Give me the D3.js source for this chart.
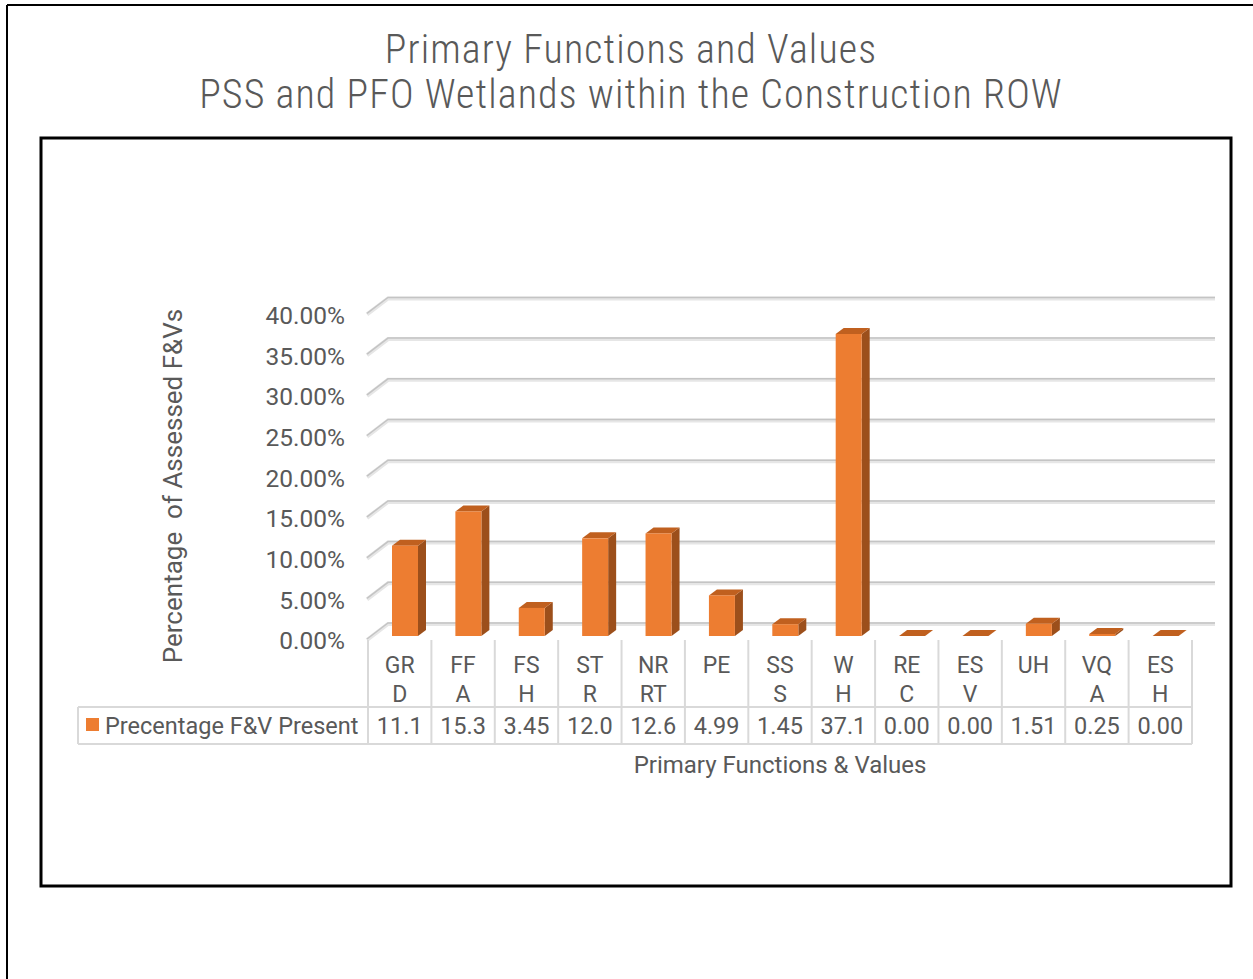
<!DOCTYPE html>
<html>
<head>
  <title>Primary Functions and Values</title>
  <script src="https://d3js.org/d3.v7.min.js"></script>
  <style>
    body { margin: 0; background: #fff; }
    text { font-family: Roboto, "Open Sans", sans-serif; fill: #595959; }
    .ttl { font-family: "Roboto Condensed", "Liberation Sans Narrow", Roboto, sans-serif; font-weight: 300; }
  </style>
</head>
<body>
  <div id="chart"></div>
  <script>
  const categories = ["GRD", "FFA", "FSH", "STR", "NRRT", "PE", "SSS", "WH", "REC", "ESV", "UH", "VQA", "ESH"];
  // label lines as shown in the table header
  const catLines = [["GR","D"],["FF","A"],["FS","H"],["ST","R"],["NR","RT"],["PE"],["SS","S"],["W","H"],["RE","C"],["ES","V"],["UH"],["VQ","A"],["ES","H"]];
  const values = [11.1, 15.3, 3.45, 12.0, 12.6, 4.99, 1.45, 37.1, 0.00, 0.00, 1.51, 0.25, 0.00];
  const valueLabels = ["11.1","15.3","3.45","12.0","12.6","4.99","1.45","37.1","0.00","0.00","1.51","0.25","0.00"];
  const yTicks = [0, 5, 10, 15, 20, 25, 30, 35, 40];
  const seriesName = "Precentage F&V Present";

  const W = 1253, H = 979;
  const svg = d3.select("#chart").append("svg")
    .attr("width", W).attr("height", H);

  // outer page frame (top + left only visible)
  svg.append("line").attr("x1", 7).attr("y1", 5).attr("x2", W).attr("y2", 5)
    .attr("stroke", "#000").attr("stroke-width", 2);
  svg.append("line").attr("x1", 7).attr("y1", 5).attr("x2", 7).attr("y2", H)
    .attr("stroke", "#000").attr("stroke-width", 2);

  // title
  const title = svg.append("text").attr("class", "ttl")
    .attr("text-anchor", "middle").attr("font-size", 40)
    .attr("letter-spacing", 1.1).style("fill", "#595959");
  title.append("tspan").attr("x", 631).attr("y", 63).text("Primary Functions and Values");
  title.append("tspan").attr("x", 631).attr("y", 108).text("PSS and PFO Wetlands within the Construction ROW");

  // inner chart box
  svg.append("rect").attr("x", 41).attr("y", 138).attr("width", 1190).attr("height", 748)
    .attr("fill", "none").attr("stroke", "#000").attr("stroke-width", 3);

  // scales
  const x = d3.scaleBand().domain(categories).range([368, 1192]);
  const y = d3.scaleLinear().domain([0, 40]).range([636, 310.4]);

  const depthX = 21, backDy = -12, frontDy = 4;
  const wallLeft = 388, wallRight = 1215;

  // gridlines: back wall + side-wall depth segment
  const grid = svg.append("g");
  yTicks.forEach(t => {
    const yb = y(t) + backDy, yf = y(t) + frontDy;
    grid.append("path")
      .attr("d", `M${wallLeft - depthX},${yf} L${wallLeft},${yb} L${wallRight},${yb}`)
      .attr("fill", "none").attr("stroke", "#e6e6e6").attr("stroke-width", 4);
    grid.append("path")
      .attr("d", `M${wallLeft - depthX},${yf - 1} L${wallLeft},${yb - 1} L${wallRight},${yb - 1}`)
      .attr("fill", "none").attr("stroke", "#c4c4c4").attr("stroke-width", 1.5);
  });

  // y tick labels
  svg.append("g").selectAll("text").data(yTicks).join("text")
    .attr("x", 345).attr("y", d => y(d) + frontDy + 3)
    .attr("text-anchor", "end").attr("dominant-baseline", "middle")
    .attr("font-size", 24.5)
    .text(d => d.toFixed(2) + "%");

  // y axis title
  svg.append("text")
    .attr("transform", "translate(182,486) rotate(-90)")
    .attr("text-anchor", "middle").attr("font-size", 26)
    .attr("xml:space", "preserve")
    .text("Percentage  of Assessed F&Vs");

  // 3D bars
  const faceOff = 24, faceW = 26, bdx = 8, bdy = -6;
  const bars = svg.append("g").selectAll("g").data(values).join("g");
  bars.each(function(v, i) {
    const g = d3.select(this);
    const x0 = x(categories[i]) + faceOff, x1 = x0 + faceW;
    const y0 = y(0), y1 = y(v);
    // side face
    g.append("path")
      .attr("d", `M${x1},${y1} L${x1 + bdx},${y1 + bdy} L${x1 + bdx},${y0 + bdy} L${x1},${y0} Z`)
      .attr("fill", "#9c4f1b");
    // top face
    g.append("path")
      .attr("d", `M${x0},${y1} L${x0 + bdx},${y1 + bdy} L${x1 + bdx},${y1 + bdy} L${x1},${y1} Z`)
      .attr("fill", "#c0601f");
    // front face
    if (v > 0) {
      g.append("rect").attr("x", x0).attr("y", y1).attr("width", faceW).attr("height", y0 - y1)
        .attr("fill", "#ed7d31");
    }
  });

  // data table
  const tbl = svg.append("g");
  const headTop = 640, rowTop = 707, rowBot = 744, legLeft = 78;
  const lineC = "#d9d9d9";
  const bounds = categories.map(c => x(c)).concat([x.range()[1]]);
  bounds.forEach(bx => {
    tbl.append("line").attr("x1", bx).attr("x2", bx).attr("y1", headTop).attr("y2", rowBot)
      .attr("stroke", lineC).attr("stroke-width", 2);
  });
  [rowTop, rowBot].forEach(yy => {
    tbl.append("line").attr("x1", legLeft).attr("x2", x.range()[1]).attr("y1", yy).attr("y2", yy)
      .attr("stroke", lineC).attr("stroke-width", 2);
  });
  tbl.append("line").attr("x1", legLeft).attr("x2", legLeft).attr("y1", rowTop).attr("y2", rowBot)
    .attr("stroke", lineC).attr("stroke-width", 2);

  catLines.forEach((lines, i) => {
    const cx = x(categories[i]) + x.bandwidth() / 2;
    lines.forEach((s, j) => {
      tbl.append("text").attr("x", cx).attr("y", 673 + j * 29)
        .attr("text-anchor", "middle").attr("font-size", 23).text(s);
    });
  });
  valueLabels.forEach((s, i) => {
    tbl.append("text").attr("x", x(categories[i]) + x.bandwidth() / 2).attr("y", 734)
      .attr("text-anchor", "middle").attr("font-size", 23.5).text(s);
  });
  tbl.append("rect").attr("x", 86).attr("y", 718).attr("width", 13).attr("height", 13)
    .attr("fill", "#ed7d31");
  tbl.append("text").attr("x", 105).attr("y", 734).attr("font-size", 23.5).text(seriesName);

  // x axis title
  svg.append("text").attr("x", 780).attr("y", 773)
    .attr("text-anchor", "middle").attr("font-size", 24)
    .text("Primary Functions & Values");
  </script>
</body>
</html>
